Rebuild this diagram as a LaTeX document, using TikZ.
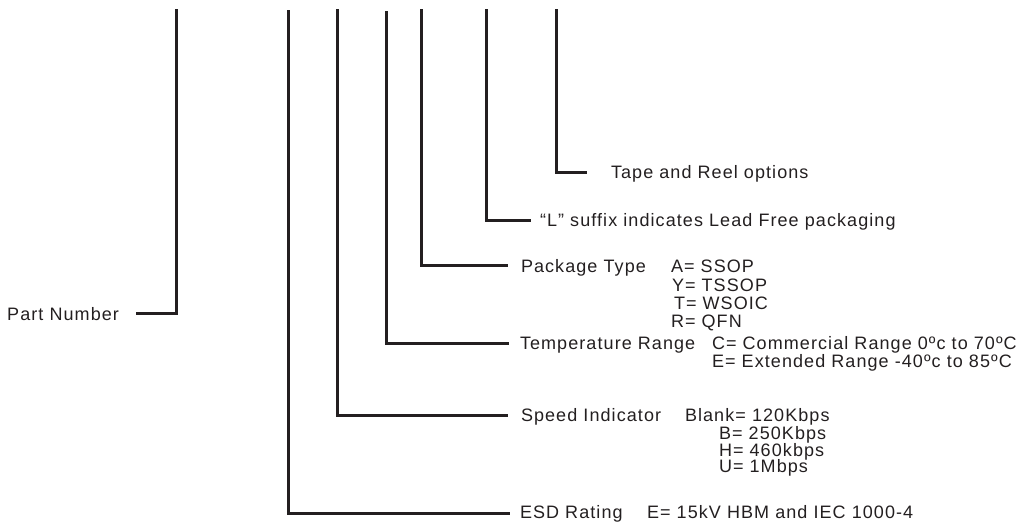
\documentclass[tikz,border=0pt]{standalone}
\usepackage{fontspec}
\setmainfont{Liberation Sans}[LetterSpace=6]
\definecolor{ink}{RGB}{35,31,32}
\begin{document}
\begin{tikzpicture}[x=1pt,y=-1pt,
  lead/.style={draw=ink,line width=3pt,line join=miter},
  lbl/.style={anchor=base west,inner sep=0pt,outer sep=0pt,text=ink,font=\fontsize{18}{19}\selectfont},
  lblr/.style={lbl,anchor=base east}]
\useasboundingbox (0,0) rectangle (1026,525);
% tops of the leads
\coordinate (t1) at (176,9);
\coordinate (t2) at (288,10);
\coordinate (t3) at (337,9);
\coordinate (t4) at (386,11);
\coordinate (t5) at (421,9);
\coordinate (t6) at (486,9);
\coordinate (t7) at (556,9);
% ends of the leads
\coordinate (e1) at (136,313);
\coordinate (e2) at (510,513);
\coordinate (e3) at (508,415);
\coordinate (e4) at (509,343);
\coordinate (e5) at (508,265);
\coordinate (e6) at (531,220);
\coordinate (e7) at (587,172);
% labels
\node[lblr] (pn) at (119,320) {Part Number};
\node[lbl] (tr) at (611,178) {Tape and Reel options};
\node[lbl] (lf) at (540,226) {“L” suffix indicates Lead Free packaging};
\node[lbl] (pt) at (521,272) {Package Type};
\node[lbl] (pa) at (671,272) {A= SSOP};
\node[lbl] (py) at (672,291) {Y= TSSOP};
\node[lbl] (pw) at (674,309) {T= WSOIC};
\node[lbl] (pr) at (671,327) {R= QFN};
\node[lbl] (tp) at (520,349) {Temperature Range};
\node[lbl] (tc) at (712,349) {C= Commercial Range 0ºc to 70ºC};
\node[lbl] (te) at (712,367) {E= Extended Range -40ºc to 85ºC};
\node[lbl] (sp) at (521,421) {Speed Indicator};
\node[lbl] (sbl) at (685,421) {Blank= 120Kbps};
\node[lbl] (sb) at (719,439) {B= 250Kbps};
\node[lbl] (sh) at (719,456) {H= 460kbps};
\node[lbl] (su) at (719,472) {U= 1Mbps};
\node[lbl] (esd) at (520,518) {ESD Rating};
\node[lbl] (ese) at (647,518) {E= 15kV HBM and IEC 1000-4};
% leads
\draw[lead] (t1) |- (e1);
\draw[lead] (t2) |- (e2);
\draw[lead] (t3) |- (e3);
\draw[lead] (t4) |- (e4);
\draw[lead] (t5) |- (e5);
\draw[lead] (t6) |- (e6);
\draw[lead] (t7) |- (e7);
\end{tikzpicture}
\end{document}
